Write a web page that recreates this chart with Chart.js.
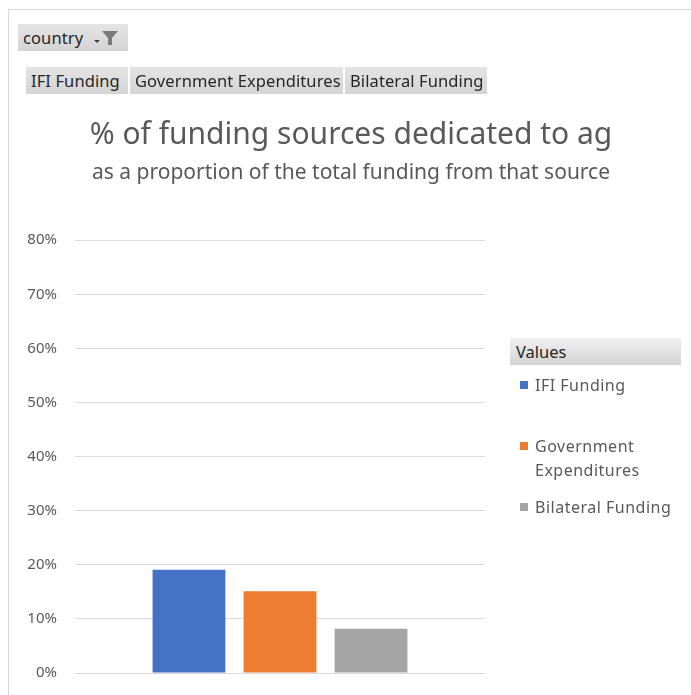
<!DOCTYPE html>
<html>
<head>
<meta charset="utf-8">
<script src="https://cdn.jsdelivr.net/npm/chart.js"></script>
<style>
  body { margin: 0; background: #fff; font-family: "Noto Sans", sans-serif; }
  #wrap { position: relative; width: 691px; height: 695px; overflow: hidden; }
  #frame { position: absolute; left: 8px; top: 9px; width: 700px; height: 700px; border: 1px solid #d9d9d9; box-sizing: border-box; }
  #chart { position: absolute; left: 0; top: 0; }
  .btn { position: absolute; height: 27px; line-height: 27px; font-size: 16.5px; color: #262626; padding: 0 5px; box-sizing: border-box;
         background: linear-gradient(#e4e4e4, #d4d4d4); white-space: nowrap; letter-spacing: 0.1px; }
  .btn svg { position: absolute; right: 6px; top: 6px; }
  #legend { position: absolute; left: 510px; top: 338px; width: 171px; }
  #legend .head { height: 27px; line-height: 27px; padding-left: 6px; font-size: 16.5px; color: #262626;
                  background: linear-gradient(#f0f0f0, #d4d4d4); }
  .item { position: absolute; left: 10px; font-size: 16px; color: #595959; line-height: 24px; letter-spacing: 0.5px; white-space: nowrap; }
  .item i { position: absolute; left: 0; top: 8px; width: 8px; height: 8px; }
  .item span { display: block; padding-left: 15px; }
</style>
</head>
<body>
<div id="wrap">
  <div id="frame"></div>
  <canvas id="chart" width="691" height="695"></canvas>
  <div class="btn" style="left:18px;top:24px;width:110px;">country
    <svg width="30" height="16" viewBox="0 0 30 16"><path d="M2 10 L8 10 L5 13 Z" fill="#404040"/><path d="M10 1 L26 1 L20 8 L20 15 L16 15 L16 8 Z" fill="#7a7a7a"/></svg>
  </div>
  <div id="fields"></div>
  <div id="legend"><div class="head">Values</div></div>
</div>
<script>
const seriesNames = ['IFI Funding', 'Government Expenditures', 'Bilateral Funding'];
const seriesValues = [0.191, 0.151, 0.082];
const seriesColors = ['#4472c4', '#ed7d31', '#a5a5a5'];
const yTicks = [0, 0.1, 0.2, 0.3, 0.4, 0.5, 0.6, 0.7, 0.8];

// pivot field buttons
const fieldPos = [[26, 102], [130, 213], [345, 142]];
const fields = document.getElementById('fields');
seriesNames.forEach(function(name, i) {
    const d = document.createElement('div');
    d.className = 'btn';
    d.style.left = fieldPos[i][0] + 'px';
    d.style.top = '67px';
    d.style.width = fieldPos[i][1] + 'px';
    d.textContent = name;
    fields.appendChild(d);
});

// legend
const legendTops = [373, 434, 495];
const legendLines = [['IFI Funding'], ['Government', 'Expenditures'], ['Bilateral Funding']];
const legend = document.getElementById('legend');
seriesNames.forEach(function(name, i) {
    const d = document.createElement('div');
    d.className = 'item';
    d.style.top = (legendTops[i] - 338) + 'px';
    d.innerHTML = '<i style="background:' + seriesColors[i] + '"></i><span>' + legendLines[i].join('<br>') + '</span>';
    legend.appendChild(d);
});

const datasets = seriesNames.map(function(name, i) {
    return {
        label: name,
        data: [seriesValues[i]],
        backgroundColor: seriesColors[i],
        categoryPercentage: 0.666,
        barPercentage: 0.8
    };
});

new Chart(document.getElementById('chart'), {
    type: 'bar',
    data: { labels: ['Total'], datasets: datasets },
    options: {
        responsive: false,
        animation: false,
        layout: { padding: { left: 11, right: 0, top: 100, bottom: 22 } },
        scales: {
            x: { display: false },
            y: {
                min: 0,
                max: 0.8,
                afterBuildTicks: function(scale) {
                    scale.ticks = yTicks.map(function(v) { return { value: v }; });
                },
                afterFit: function(scale) {
                    scale.width = 64;
                    scale.paddingTop = 0;
                    scale.paddingBottom = 0;
                },
                border: { display: false },
                grid: { color: '#d9d9d9', drawTicks: false },
                ticks: {
                    padding: 18,
                    color: '#595959',
                    font: { family: 'Noto Sans', size: 15 },
                    callback: function(v) { return Math.round(v * 100) + '%'; }
                }
            },
            spacer: {
                position: 'right',
                display: true,
                grid: { display: false },
                border: { display: false },
                ticks: { display: false },
                afterFit: function(scale) { scale.width = 206; }
            }
        },
        plugins: {
            legend: { display: false },
            tooltip: { enabled: false },
            title: {
                display: true,
                text: '% of funding sources dedicated to ag',
                color: '#595959',
                font: { family: 'Noto Sans', size: 30, weight: 'normal' },
                padding: { top: 17, bottom: 0 }
            },
            subtitle: {
                display: true,
                text: 'as a proportion of the total funding from that source',
                color: '#595959',
                font: { family: 'Noto Sans', size: 21 },
                padding: { top: 7, bottom: 55 }
            }
        }
    }
});
</script>
</body>
</html>
